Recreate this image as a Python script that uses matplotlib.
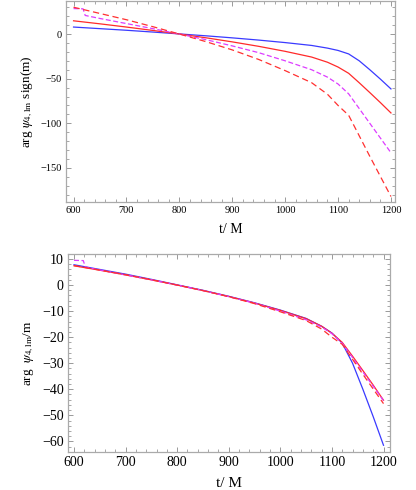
import matplotlib
matplotlib.use('Agg')
import matplotlib.pyplot as plt
from matplotlib.ticker import MultipleLocator

# time grid (t / M)
t = [600, 650, 700, 750, 800, 850, 900, 950, 1000, 1050, 1080, 1100,
     1120, 1140, 1160, 1180, 1200]
t_m3 = [600, 618, 622, 650, 700, 750, 800, 850, 900, 950, 1000, 1050,
        1080, 1100, 1120, 1140, 1160, 1180, 1200]

# arg psi4 * sign(m)
arg_m1 = [7.8, 6.0, 4.2, 2.2, 0.1, -2.0, -4.3, -6.8, -9.6, -12.8, -15.8,
          -18.4, -22.3, -30.0, -40.0, -50.5, -61.5]
arg_m2 = [14.8, 11.4, 7.8, 4.0, 0.0, -4.2, -8.8, -13.8, -19.4, -25.8,
          -31.6, -37.0, -44.0, -54.6, -65.6, -76.8, -88.4]
arg_m3 = [28.5, 28.2, 20.8, 17.4, 11.7, 6.0, 0.0, -6.3, -13.3, -20.9,
          -30.0, -40.0, -48.3, -56.0, -67.0, -83.5, -100.0, -116.5, -133.0]
arg_m4 = [30.0, 23.0, 16.0, 8.2, 0.0, -8.5, -17.8, -28.5, -41.0, -54.5,
          -67.5, -80.0, -91.0, -114.0, -137.0, -159.5, -182.0]

series = [
    (t, arg_m1, 1, '#3a3aff', '-'),
    (t, arg_m2, 2, '#ff2a2a', '-'),
    (t_m3, arg_m3, 3, '#dd3cff', (0, (4, 2))),
    (t, arg_m4, 4, '#ff3030', (0, (5, 3))),
]

plt.rcParams['font.family'] = ['Liberation Serif', 'DejaVu Serif']
plt.rcParams['mathtext.fontset'] = 'stix'

fig = plt.figure(figsize=(4.16, 4.9), dpi=100)
ax1 = fig.add_axes([0.159, 0.588, 0.791, 0.41])
ax2 = fig.add_axes([0.163, 0.078, 0.775, 0.404])

for tt, yy, m, col, ls in series:
    ax1.plot(tt, yy, color=col, ls=ls, lw=0.9)
    ax2.plot(tt, [v / m for v in yy], color=col, ls=ls, lw=0.9)

ax1.set_xlim(586, 1208)
ax1.set_ylim(-188, 37)
ax1.yaxis.set_major_locator(MultipleLocator(50))
ax1.yaxis.set_minor_locator(MultipleLocator(10))
ax1.set_ylabel(r'arg $\psi_{4,\mathrm{lm}}$ sign(m)', fontsize=9.5)
ax1.set_xlabel('t/ M', fontsize=10, labelpad=6)

ax2.set_xlim(588, 1213)
ax2.set_ylim(-64, 12)
ax2.yaxis.set_major_locator(MultipleLocator(10))
ax2.yaxis.set_minor_locator(MultipleLocator(2))
ax2.set_ylabel(r'arg  $\psi_{4,\mathrm{lm}}$/m', fontsize=9.5)
ax2.set_xlabel('t/ M', fontsize=11, labelpad=6)

for ax, fs in [(ax1, 7.5), (ax2, 10)]:
    ax.xaxis.set_major_locator(MultipleLocator(100))
    ax.xaxis.set_minor_locator(MultipleLocator(20))
    ax.tick_params(which='both', direction='in', top=True, right=True,
                   color='#999999', labelsize=fs, pad=3)
    ax.tick_params(which='major', length=3.5, width=0.7)
    ax.tick_params(which='minor', length=2, width=0.6)
    for sp in ax.spines.values():
        sp.set_color('#aaaaaa')
        sp.set_linewidth(0.9)

fig.savefig('out.png', dpi=100)
